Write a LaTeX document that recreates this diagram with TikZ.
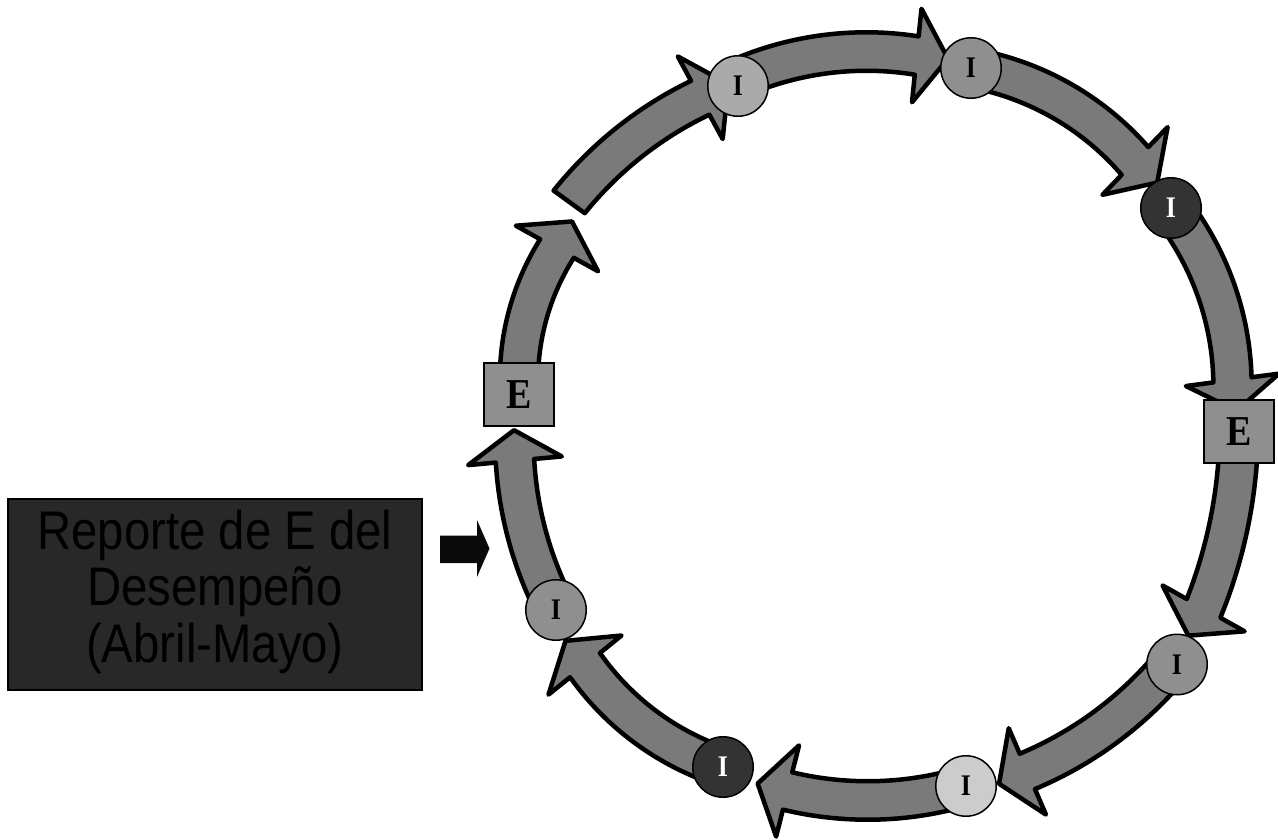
\documentclass[tikz,border=0pt]{standalone}
\usepackage{fontspec}
\usepackage{graphicx}
\setmainfont{Liberation Serif}
\newfontfamily\arialf{Liberation Sans}
\definecolor{shaftg}{HTML}{7A7A7A}
\definecolor{midg}{HTML}{8F8F8F}
\definecolor{lightg}{HTML}{AAAAAA}
\definecolor{paleg}{HTML}{CCCCCC}
\definecolor{darkg}{HTML}{333333}
\definecolor{boxg}{HTML}{282828}
\definecolor{tipblack}{HTML}{0A0A0A}
% #1 tail angle, #2 tail radius, #3 head-base angle, #4 head-base radius,
% #5 tip angle, #6 tip radius, #7 bulge
\newcommand\ringarrow[7]{%
  \draw[ringshape]
    plot[domain=0:1,samples=40]
      ({879+((#2)+((#4)-(#2))*\x+4*(#7)*\x*(1-\x)+19.25)*cos((#1)+((#3)-(#1))*\x)},
       {427-((#2)+((#4)-(#2))*\x+4*(#7)*\x*(1-\x)+19.25)*sin((#1)+((#3)-(#1))*\x)})
    -- ({879+((#4)+47)*cos(#3)},{427-((#4)+47)*sin(#3)})
    -- ({879+(#6)*cos(#5)},{427-(#6)*sin(#5)})
    -- ({879+((#4)-47)*cos(#3)},{427-((#4)-47)*sin(#3)})
    -- plot[domain=1:0,samples=40]
      ({879+((#2)+((#4)-(#2))*\x+4*(#7)*\x*(1-\x)-19.25)*cos((#1)+((#3)-(#1))*\x)},
       {427-((#2)+((#4)-(#2))*\x+4*(#7)*\x*(1-\x)-19.25)*sin((#1)+((#3)-(#1))*\x)})
    -- cycle;}
\newcommand\tallI{\scalebox{1}[1.15]{I}}
\newcommand\tallE{\scalebox{1}[1.12]{E}}
\begin{document}
\begin{tikzpicture}[x=1pt,y=-1pt,
  ringshape/.style={draw=black,fill=shaftg,line width=4.5pt,line join=round},
  inode/.style={circle,draw=black,line width=1.5pt,minimum size=60.5pt,inner sep=0pt,
    font=\fontsize{26}{26}\selectfont\bfseries},
  enode/.style={rectangle,draw=black,line width=2pt,fill=midg,minimum width=70pt,
    minimum height=63pt,inner sep=0pt,font=\fontsize{38}{38}\selectfont\bfseries},
  repbox/.style={rectangle,draw=black,line width=2pt,fill=boxg,minimum width=414pt,
    minimum height=191pt,inner sep=0pt,align=center,text=black}]
\useasboundingbox (0,0) rectangle (1278,839);
% ring arrows (clockwise on screen)
\ringarrow{209.5}{371}{185.3}{365.6}{180.5}{365}{0}
\ringarrow{174.9}{361}{151}{368.2}{146.2}{369.5}{4}
\ringarrow{144}{383}{118.5}{374.7}{113.7}{374.5}{0}
\ringarrow{112.5}{376}{84.2}{373.4}{79.4}{374.8}{2}
\ringarrow{75.6}{370.6}{46.1}{369.2}{41.3}{370.4}{4}
\ringarrow{36.9}{365}{7.6}{356.6}{2.6}{358}{3}
\ringarrow{-0.6}{360}{-29.2}{371.8}{-34.0}{373.1}{-3}
\ringarrow{-38.5}{377}{-66.7}{375}{-71.4}{376.4}{0}
\ringarrow{-76.4}{369.4}{-104.1}{375.3}{-108.8}{376.6}{1}
\ringarrow{-114.6}{374}{-141}{378.3}{-145.7}{379.5}{4}
% nodes on the ring
\node[inode,fill=lightg] (i1) at (738,86) {\tallI};
\node[inode,fill=midg] (i2) at (971,68) {\tallI};
\node[inode,fill=darkg,text=white] (i3) at (1171,208) {\tallI};
\node[enode] (er) at (1239,431.5) {\tallE};
\node[inode,fill=midg] (i4) at (1177,664.5) {\tallI};
\node[inode,fill=paleg] (i5) at (966,786) {\tallI};
\node[inode,fill=darkg,text=white] (i6) at (723,767) {\tallI};
\node[inode,fill=midg] (i7) at (556,610) {\tallI};
\node[enode] (el) at (519,394.5) {\tallE};
% report box
\node[repbox] (rep) at (215,594.5) {\scalebox{1}[1.15]{\arialf\fontsize{47.3}{49.1}\selectfont
  \begin{tabular}{@{}c@{}}Reporte de E del\\Desempeño\\(Abril-Mayo)\end{tabular}}};
% small black arrow
\fill[tipblack] (440,535.5) -- (477,535.5) -- (477,520) -- (489.5,548.5) -- (477,577)
  -- (477,563) -- (440,563) -- cycle;
\end{tikzpicture}
\end{document}
